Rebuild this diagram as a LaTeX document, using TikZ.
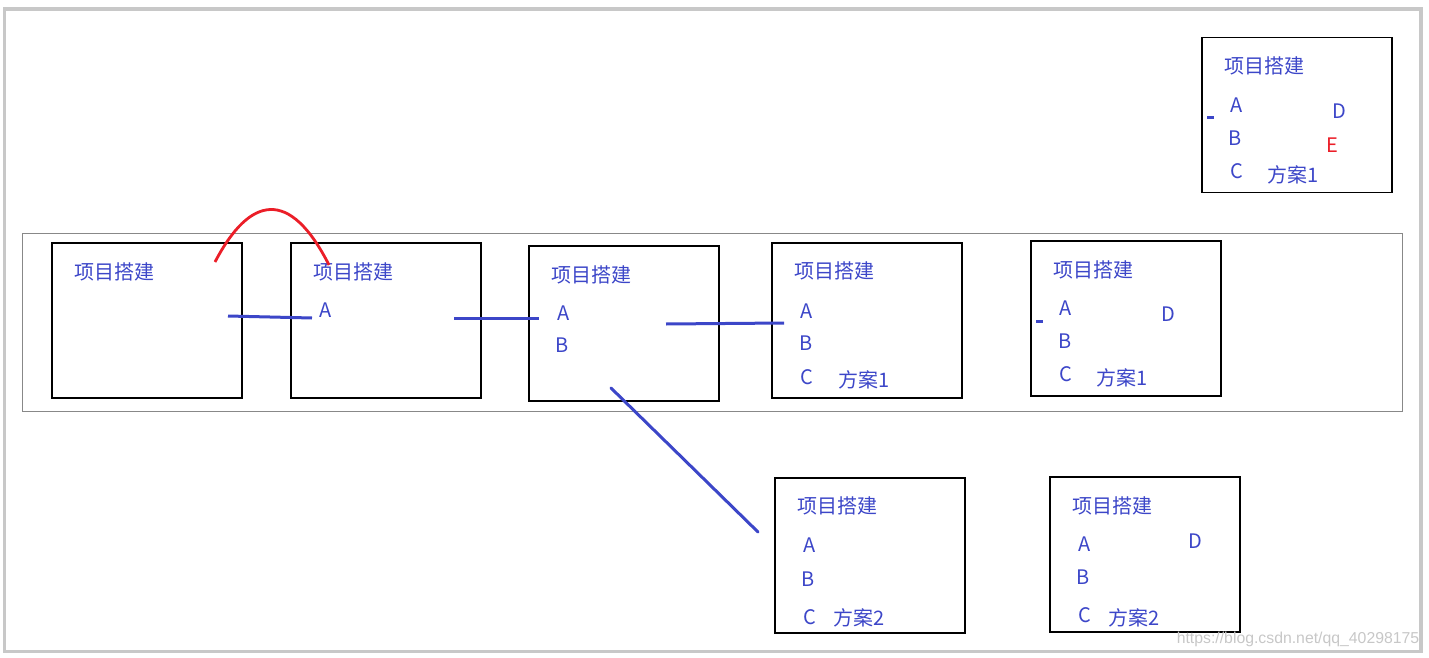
\documentclass[tikz,border=0pt]{standalone}
\usepackage{fontspec}
\setmainfont{Noto Sans CJK SC}
\newfontfamily\wmfont{Liberation Sans}
\usepackage{tikz}
\usetikzlibrary{positioning}
\definecolor{cInk}{RGB}{60,70,200}
\definecolor{cMark}{RGB}{235,30,40}
\definecolor{cFrame}{RGB}{200,200,200}
\definecolor{cBand}{RGB}{136,136,136}

\begin{document}
\begin{tikzpicture}[x=0.5pt,y=-0.5pt,
  card/.style={draw=black,line width=0.6pt,minimum width=95pt,minimum height=77.5pt,inner sep=0pt},
  lbl/.style={text=cInk,font=\fontsize{10}{12}\selectfont,inner sep=0pt},
  link/.style={cInk,line width=1.5pt}]
  \useasboundingbox (0,0) rectangle (1429,658);
  \draw[cFrame,line width=1.75pt] (4.5,9) rectangle (1421,651.5);
  \draw[cBand,line width=0.5pt] (22,233) rectangle (1402,411);
  % cards
  \node[card] (b1) at (147,320.5) {};
  \node[card] (b2) at (386,320.5) {};
  \node[card] (b3) at (624,323.5) {};
  \node[card] (b4) at (867,320.5) {};
  \node[card] (b5) at (1126,318.5) {};
  \node[card] (b6) at (1297,115) {};
  \node[card] (b7) at (870,555.5) {};
  \node[card] (b8) at (1145,554.5) {};
  % labels
  \node[lbl] (t1) at (114,271.5) {项目搭建};
  \node[lbl] (t2) at (353,271.5) {项目搭建};
  \node[lbl] (a2) at (326,310.5) {A};
  \node[lbl] (t3) at (591,274.5) {项目搭建};
  \node[lbl] (a3) at (564,313.5) {A};
  \node[lbl] (bb3) at (562.5,345.5) {B};
  \node[lbl] (t4) at (834,271) {项目搭建};
  \node[lbl] (a4) at (807,311) {A};
  \node[lbl] (bb4) at (806,343) {B};
  \node[lbl] (c4) at (807,377) {C};
  \node[lbl] (p4) at (864,380) {方案1};
  \node[lbl] (t5) at (1093,270) {项目搭建};
  \node[lbl] (a5) at (1066,308.5) {A};
  \node[lbl] (d5) at (1168,314.5) {D};
  \node[lbl] (bb5) at (1065,341.5) {B};
  \node[lbl] (c5) at (1066,374.5) {C};
  \node[lbl] (p5) at (1122.5,378) {方案1};
  \node[lbl] (t6) at (1264,66) {项目搭建};
  \node[lbl] (a6) at (1237,105.5) {A};
  \node[lbl] (d6) at (1339,111.5) {D};
  \node[lbl] (bb6) at (1235.5,138.5) {B};
  \node[lbl,text=cMark] (e6) at (1332,145.5) {E};
  \node[lbl] (c6) at (1237,171.5) {C};
  \node[lbl] (p6) at (1293.5,174.5) {方案1};
  \node[lbl] (t7) at (837,506) {项目搭建};
  \node[lbl] (a7) at (810,545.5) {A};
  \node[lbl] (bb7) at (808.5,579) {B};
  \node[lbl] (c7) at (809.5,617.5) {C};
  \node[lbl] (p7) at (859.5,618) {方案2};
  \node[lbl] (t8) at (1112,505.5) {项目搭建};
  \node[lbl] (a8) at (1085,544) {A};
  \node[lbl] (d8) at (1195.5,541.5) {D};
  \node[lbl] (bb8) at (1083.5,577.5) {B};
  \node[lbl] (c8) at (1085,615) {C};
  \node[lbl] (p8) at (1134.5,617.5) {方案2};
  % strokes
  \coordinate (l1s) at (228,316); \coordinate (l1e) at (312,318);
  \coordinate (l2s) at (454,318); \coordinate (l2e) at (539,318);
  \coordinate (l3s) at (666,324); \coordinate (l3e) at (784,323);
  \coordinate (l4s) at (611,388); \coordinate (l4e) at (758,532);
  \coordinate (m5s) at (1036,321); \coordinate (m5e) at (1043,321);
  \coordinate (m6s) at (1207,118); \coordinate (m6e) at (1214,118);
  \coordinate (arcS) at (215,262); \coordinate (arcE) at (329,265);
  \draw[link] (l1s) -- (l1e);
  \draw[link] (l2s) -- (l2e);
  \draw[link] (l3s) -- (l3e);
  \draw[link,line cap=round] (l4s) -- (l4e);
  \draw[link] (m5s) -- (m5e);
  \draw[link] (m6s) -- (m6e);
  \draw[cMark,line width=1.4pt] (arcS) .. controls (250,195) and (290,188) .. (arcE);
  \node[text=black!22,font=\wmfont\fontsize{7.9}{9}\selectfont,inner sep=0pt] (wm) at (1298,639.5) {https://blog.csdn.net/qq\_40298175};
\end{tikzpicture}
\end{document}
